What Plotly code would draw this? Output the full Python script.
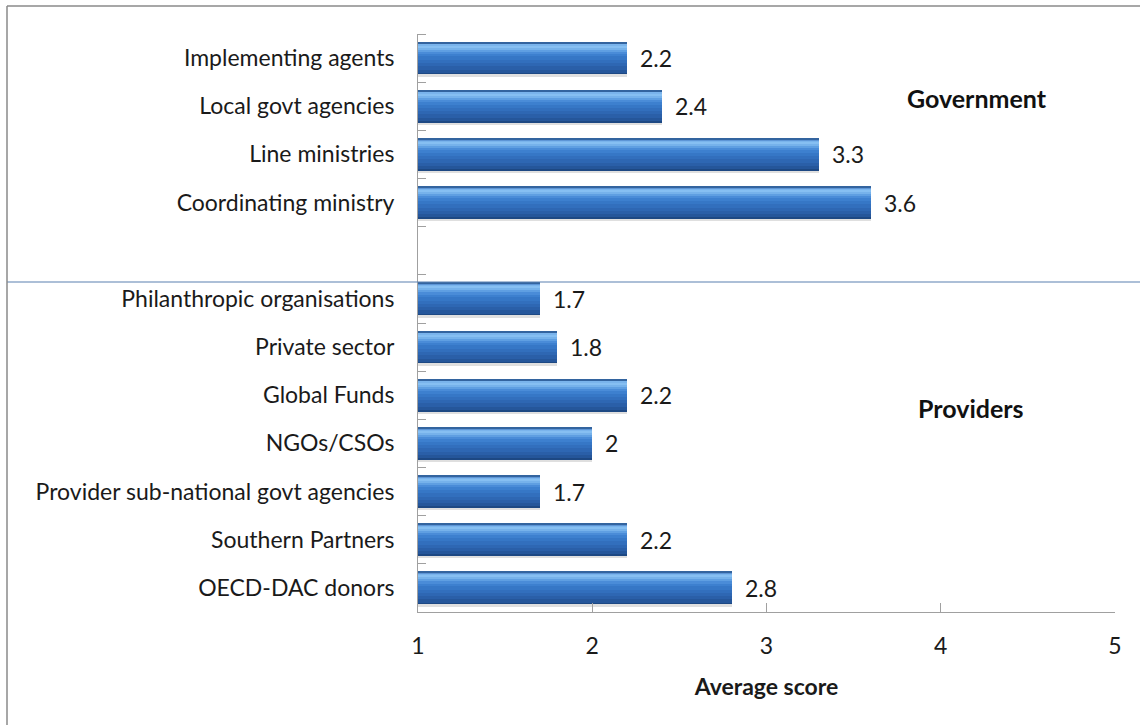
import plotly.graph_objects as go

# Average scores by stakeholder group
government_labels = ["Implementing agents", "Local govt agencies", "Line ministries", "Coordinating ministry"]
government_scores = [2.2, 2.4, 3.3, 3.6]

provider_labels = ["Philanthropic organisations", "Private sector", "Global Funds", "NGOs/CSOs",
                   "Provider sub-national govt agencies", "Southern Partners", "OECD-DAC donors"]
provider_scores = [1.7, 1.8, 2.2, 2, 1.7, 2.2, 2.8]

x_ticks = [1, 2, 3, 4, 5]
group_titles = ["Government", "Providers"]
axis_title = "Average score"

FONT = "Lato"
W, H = 1140, 725

# Rows from top to bottom, with one blank row separating the two groups
labels = government_labels + [""] + provider_labels
scores = government_scores + [None] + provider_scores
n = len(labels)
ypos = [n - 1 - i for i in range(n)]          # top row gets the largest position

bar_y = [y for y, s in zip(ypos, scores) if s is not None]
bar_x = [s for s in scores if s is not None]

fig = go.Figure()

# Bars are built from overlapping horizontal bands (each one running up to the
# top edge) to give a smooth cylindrical shading without seams
thick = 0.68
bands = [  # (start fraction from the bottom, colour)
    (-0.07, "rgba(150,150,150,0.30)"),
    (0.00, "#1d4883"),
    (0.05, "#25569a"),
    (0.15, "#2a5fa8"),
    (0.25, "#2e67b3"),
    (0.35, "#326fbd"),
    (0.45, "#3677c6"),
    (0.55, "#3d80cf"),
    (0.63, "#4a8cd8"),
    (0.70, "#5f9fe2"),
    (0.76, "#76b2eb"),
    (0.82, "#86bff2"),
    (0.88, "#7ab4ec"),
    (0.92, "#5d95d6"),
    (0.96, "#33649f"),
]
for f0, col in bands:
    fig.add_trace(go.Bar(
        x=bar_x, y=bar_y, orientation="h",
        width=thick * (1 - f0) if f0 >= 0 else thick * 0.3,
        offset=-thick / 2 + thick * f0,
        marker=dict(color=col, line=dict(width=0)),
        hoverinfo="skip", showlegend=False,
    ))

# Value labels
for x, y in zip(bar_x, bar_y):
    fig.add_annotation(x=x, y=y, text=f"{x:g}", showarrow=False, xanchor="left",
                       yanchor="middle", xshift=11,
                       font=dict(family=FONT, size=23, color="#1a1a1a"))

x0d, x1d = 418 / W, 1115 / W
y0d, y1d = (H - 612) / H, (H - 34) / H

fig.update_layout(
    width=W, height=H,
    margin=dict(l=0, r=0, t=0, b=0, autoexpand=False),
    paper_bgcolor="white", plot_bgcolor="white",
    barmode="overlay", bargap=0,
    font=dict(family=FONT, size=23, color="#1a1a1a"),
    xaxis=dict(
        domain=[x0d, x1d], range=[1, 5], tickvals=x_ticks,
        automargin=False,
        showgrid=False, zeroline=False,
        showline=True, linecolor="#a0a0a0", linewidth=1,
        ticks="inside", ticklen=9, tickcolor="#a0a0a0",
        ticklabelstandoff=13,
        tickfont=dict(family=FONT, size=23, color="#1a1a1a"),
        title=dict(text=f"<b>{axis_title}</b>", standoff=21,
                   font=dict(family=FONT, size=23, color="#1a1a1a")),
    ),
    yaxis=dict(
        domain=[y0d, y1d], range=[-0.5, n - 0.5],
        tickvals=ypos, ticktext=labels, ticks="",
        automargin=False,
        showgrid=False, zeroline=False,
        showline=True, linecolor="#a0a0a0", linewidth=1,
        ticklabelstandoff=18,
        tickfont=dict(family=FONT, size=23, color="#1a1a1a"),
        minor=dict(tickvals=[k + 0.5 for k in range(n)], ticks="inside",
                   ticklen=8, tickcolor="#a0a0a0", showgrid=False),
    ),
)

# Group titles
fig.add_annotation(x=977 / W, y=1 - 98 / H, xref="paper", yref="paper",
                   xanchor="center", yanchor="middle",
                   text=f"<b>{group_titles[0]}</b>", showarrow=False,
                   font=dict(family=FONT, size=25, color="#111111"))
fig.add_annotation(x=971 / W, y=1 - 408 / H, xref="paper", yref="paper",
                   xanchor="center", yanchor="middle",
                   text=f"<b>{group_titles[1]}</b>", showarrow=False,
                   font=dict(family=FONT, size=25, color="#111111"))

# Separator between the two groups, across the full width
fig.add_shape(type="line", xref="paper", yref="paper", x0=7 / W, x1=1,
              y0=1 - 282 / H, y1=1 - 282 / H,
              line=dict(color="#5b80b0", width=1.2))

# Chart frame (top and left edges)
fig.add_shape(type="line", xref="paper", yref="paper", x0=7 / W, x1=1,
              y0=1 - 6 / H, y1=1 - 6 / H, line=dict(color="#8a8a8a", width=1.5))
fig.add_shape(type="line", xref="paper", yref="paper", x0=7 / W, x1=7 / W,
              y0=0, y1=1 - 6 / H, line=dict(color="#8a8a8a", width=1.5))

fig.write_html("out.html")
